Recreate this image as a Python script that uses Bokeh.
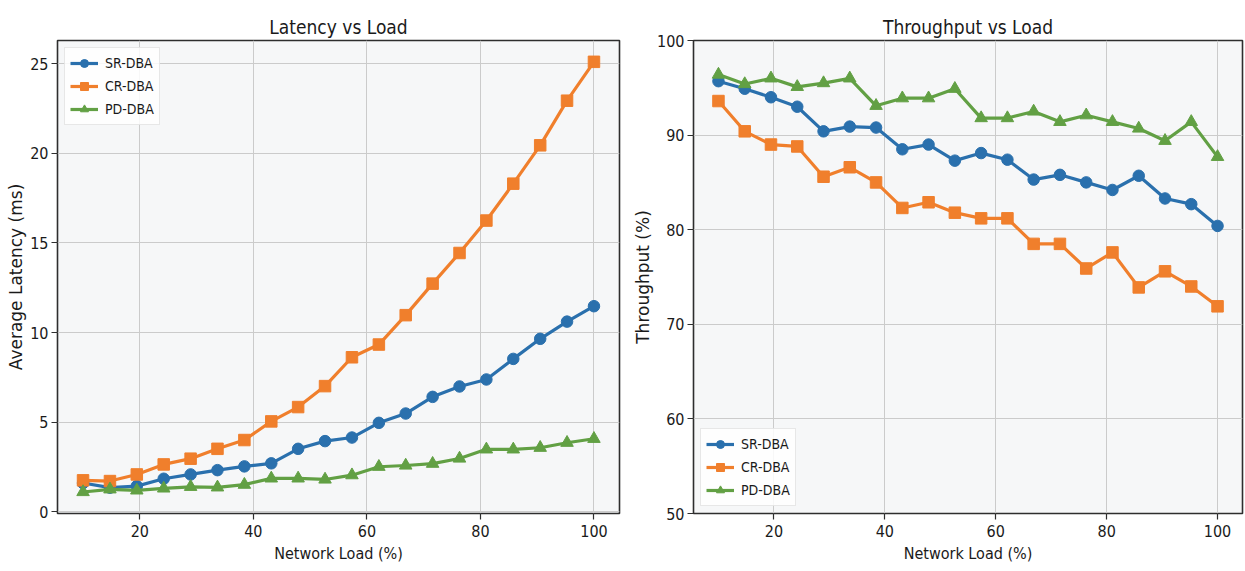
from bokeh.plotting import figure
from bokeh.layouts import row
from bokeh.models import Range1d, FixedTicker
from bokeh.embed import file_html
from bokeh.resources import INLINE

load = [10.0, 14.74, 19.47, 24.21, 28.95, 33.68, 38.42, 43.16, 47.89, 52.63,
        57.37, 62.11, 66.84, 71.58, 76.32, 81.05, 85.79, 90.53, 95.26, 100.0]

lat_sr = [1.60, 1.34, 1.43, 1.84, 2.08, 2.32, 2.53, 2.70, 3.51, 3.94,
          4.14, 4.96, 5.48, 6.41, 6.99, 7.38, 8.53, 9.65, 10.61, 11.47]
lat_cr = [1.75, 1.71, 2.08, 2.64, 2.96, 3.51, 4.00, 5.04, 5.84, 7.01,
          8.62, 9.33, 10.97, 12.73, 14.44, 16.25, 18.31, 20.45, 22.94, 25.11]
lat_pd = [1.10, 1.25, 1.19, 1.30, 1.39, 1.36, 1.51, 1.86, 1.86, 1.80,
          2.04, 2.51, 2.58, 2.68, 2.97, 3.48, 3.48, 3.57, 3.85, 4.07]

thr_sr = [95.7, 94.9, 94.0, 93.0, 90.4, 90.9, 90.8, 88.5, 89.0, 87.3,
          88.1, 87.4, 85.3, 85.8, 85.0, 84.2, 85.7, 83.3, 82.7, 80.4]
thr_cr = [93.6, 90.4, 89.0, 88.8, 85.6, 86.6, 85.0, 82.3, 82.9, 81.8,
          81.2, 81.2, 78.5, 78.5, 75.9, 77.6, 73.9, 75.6, 74.0, 71.9]
thr_pd = [96.4, 95.4, 96.0, 95.1, 95.5, 96.0, 93.1, 93.9, 93.9, 94.9,
          91.8, 91.8, 92.5, 91.4, 92.1, 91.4, 90.7, 89.4, 91.4, 87.7]

names = ["SR-DBA", "CR-DBA", "PD-DBA"]
colors = ["#2a70ad", "#f07f2c", "#62a044"]
markers = ["circle", "square", "triangle"]
x_ticks = [20, 40, 60, 80, 100]
lat_ticks = [0, 5, 10, 15, 20, 25]
thr_ticks = [50, 60, 70, 80, 90, 100]

NARROW = "'DejaVu Sans Condensed', 'DejaVu Sans'"
WIDE = "DejaVu Sans"


def style(p, title_text, xlabel, ylabel):
    p.title.text = title_text
    p.title.align = "center"
    p.title.text_font = NARROW
    p.title.text_font_size = "19px"
    p.title.text_font_style = "normal"
    p.title.text_color = "#1a1a1a"
    p.title.standoff = 6
    p.background_fill_color = "#f6f7f8"
    p.border_fill_color = "white"
    p.outline_line_color = "#2e2e2e"
    p.outline_line_width = 1.6
    for ax in (p.xaxis[0], p.yaxis[0]):
        ax.axis_line_color = None
        ax.major_tick_in = 0
        ax.major_tick_out = 6
        ax.major_tick_line_color = "#2e2e2e"
        ax.major_tick_line_width = 1.2
        ax.minor_tick_line_color = None
        ax.major_label_text_font = NARROW
        ax.major_label_text_font_size = "16px"
        ax.major_label_text_color = "#1a1a1a"
        ax.axis_label_text_font_style = "normal"
        ax.axis_label_text_color = "#1a1a1a"
    p.xaxis.axis_label = xlabel
    p.xaxis.axis_label_text_font = NARROW
    p.xaxis.axis_label_text_font_size = "16px"
    p.xaxis.major_label_standoff = 5
    p.xaxis.axis_label_standoff = 4
    p.yaxis.axis_label = ylabel
    p.yaxis.axis_label_text_font = WIDE
    p.yaxis.axis_label_text_font_size = "17px"
    p.yaxis.major_label_standoff = 3
    p.yaxis.axis_label_standoff = 1
    p.grid.grid_line_color = "#cbcbcb"
    p.grid.grid_line_width = 1


def add_series(p, ys_list):
    for ys, nm, c, m in zip(ys_list, names, colors, markers):
        p.line(load, ys, line_color=c, line_width=3.2, legend_label=nm)
        p.scatter(load, ys, marker=m, size=11.5 if m != "triangle" else 12.5,
                  fill_color=c, line_color=c, legend_label=nm)


def style_legend(p, loc):
    lg = p.legend[0]
    lg.location = loc
    lg.label_text_font = NARROW
    lg.label_text_font_size = "14px"
    lg.label_text_color = "#1a1a1a"
    lg.background_fill_color = "white"
    lg.background_fill_alpha = 0.85
    lg.border_line_color = "#d0d0d0"
    lg.border_line_width = 1
    lg.glyph_width = 28
    lg.glyph_height = 20
    lg.label_height = 20
    lg.label_standoff = 7
    lg.spacing = 3
    lg.padding = 5
    lg.margin = 7


p1 = figure(width=630, height=570, output_backend="svg", toolbar_location=None,
            x_range=Range1d(5.5, 104.5), y_range=Range1d(-0.1, 26.3),
            min_border_left=57, min_border_right=11, min_border_top=40, min_border_bottom=57)
style(p1, "Latency vs Load", "Network Load (%)", "Average Latency (ms)")
p1.xaxis.ticker = FixedTicker(ticks=x_ticks)
p1.yaxis.ticker = FixedTicker(ticks=lat_ticks)
add_series(p1, [lat_sr, lat_cr, lat_pd])
style_legend(p1, "top_left")

p2 = figure(width=614, height=570, output_backend="svg", toolbar_location=None,
            x_range=Range1d(5.5, 104.5), y_range=Range1d(50, 100),
            min_border_left=58, min_border_right=2, min_border_top=40, min_border_bottom=57)
style(p2, "Throughput vs Load", "Network Load (%)", "Throughput (%)")
p2.xaxis.ticker = FixedTicker(ticks=x_ticks)
p2.yaxis.ticker = FixedTicker(ticks=thr_ticks)
add_series(p2, [thr_sr, thr_cr, thr_pd])
style_legend(p2, "bottom_left")

layout = row(p1, p2)
open("out.html", "w").write(file_html(layout, INLINE))
